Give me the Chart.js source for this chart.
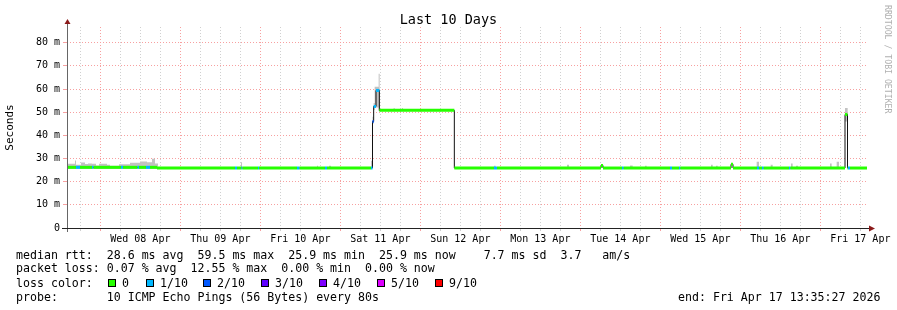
<!DOCTYPE html>
<html>
<head>
<meta charset="utf-8">
<script src="https://cdn.jsdelivr.net/npm/chart.js@4.4.1/dist/chart.umd.min.js"></script>
<style>
  body { margin: 0; background: #fff; }
  #wrap { position: relative; width: 897px; height: 310px; overflow: hidden; }
  #chart { position: absolute; left: 0; top: 0; }
  .txt { position: absolute; font-family: 'DejaVu Sans Mono', monospace; font-size: 11.6px; line-height: 14px; white-space: pre; color: #000; }
  .box { position: absolute; width: 8px; height: 8px; box-sizing: border-box; border: 1px solid #000; }
  #title { position: absolute; left: 0; width: 897px; top: 11px; text-align: center; font-family: 'DejaVu Sans Mono', monospace; font-size: 13.5px; line-height: 16px; color: #000; }
  #mark { position: absolute; left: 883px; top: 5px; writing-mode: vertical-rl; font-family: 'DejaVu Sans Mono', monospace; font-size: 8.2px; color: #b0b0b0; white-space: pre; }
</style>
</head>
<body>
<div id="wrap">
  <canvas id="chart" width="897" height="310"></canvas>
  <div id="title">Last 10 Days</div>
  <div id="mark">RRDTOOL / TOBI OETIKER</div>
  <div class="txt" style="left:16px; top:248px;">median rtt:  28.6 ms avg  59.5 ms max  25.9 ms min  25.9 ms now    7.7 ms sd  3.7   am/s</div>
  <div class="txt" style="left:16px; top:261px;">packet loss: 0.07 % avg  12.55 % max  0.00 % min  0.00 % now</div>
  <div class="txt" style="left:16px; top:276px;">loss color:</div>
  <div id="legend"></div>
  <div class="txt" style="left:16px; top:290px;">probe:       10 ICMP Echo Pings (56 Bytes) every 80s</div>
  <div class="txt" style="left:678px; top:290px;">end: Fri Apr 17 13:35:27 2026</div>
</div>
<script>
// x values are hours since Tue 07 Apr 00:00
const startHour = 14;
const endHour = 254;
const dayLabels = ['Wed 08 Apr', 'Thu 09 Apr', 'Fri 10 Apr', 'Sat 11 Apr', 'Sun 12 Apr',
                   'Mon 13 Apr', 'Tue 14 Apr', 'Wed 15 Apr', 'Thu 16 Apr', 'Fri 17 Apr'];

// loss legend
const lossNames = ['0', '1/10', '2/10', '3/10', '4/10', '5/10', '9/10'];
const lossColors = ['#26ff00', '#00b8ff', '#0059ff', '#5e00ff', '#7e00ff', '#dd00ff', '#ff0000'];

// median rtt (ms), each value holds from its hour to the next one
const medianHours = [14, 16.7, 17.9, 21.5, 21.95, 30.2, 30.8, 35.15, 35.6, 37.7, 38.9, 41,
  64.4, 65, 66.35, 66.65, 71.3, 71.6, 83, 83.75, 91.4, 92, 105.2, 105.65, 106, 106.7, 107.7,
  130.2, 142.1, 143, 174.2, 174.8, 180.5, 181, 194.9, 195.5, 197.6, 198, 213.2, 213.8,
  221, 221.6, 222.5, 223, 230.6, 231, 247.4, 248.15, 248.3, 248.9];
const medianValues = [26.2, 26.2, 26.2, 26.2, 26.2, 26.2, 26.2, 26.2, 26.2, 26.2, 26.2, 25.9,
  25.9, 25.9, 25.9, 25.9, 25.9, 25.9, 25.9, 25.9, 25.9, 25.9, 25.9, 46, 52.5, 59.4, 50.8,
  25.9, 25.9, 25.9, 27.0, 25.9, 25.9, 25.9, 25.9, 25.9, 25.9, 25.9, 27.5, 25.9,
  25.9, 25.9, 25.9, 25.9, 25.9, 25.9, 49, 25.9, 25.9, 25.9];
// lost pings out of 10 -> index into lossColors
const medianLoss = [0, 1, 0, 1, 0, 1, 0, 1, 0, 1, 0, 0,
  1, 0, 1, 0, 1, 0, 1, 0, 1, 0, 1, 2, 1, 1, 0,
  0, 1, 0, 0, 0, 1, 0, 1, 0, 1, 0, 0, 0,
  1, 0, 1, 0, 1, 0, 0, 0, 1, 0];

// smoke (spread of the pings)
const smokeHours = [14, 16.4, 16.7, 18.2, 19.4, 20.3, 21.5, 22.7, 23.6, 26, 26.9, 29.6, 32.9, 35.9, 38, 39.5, 40.4,
  41.3, 66.2, 66.5, 89, 89.3, 92.6, 93.2, 105.2, 105.65, 106, 106.3, 107.5, 107.8, 112, 112.3, 114.5, 114.8,
  130.2, 142.1, 142.6, 164, 164.6, 182.9, 183.7, 187.4, 187.9, 207.2, 207.7, 208.7, 209.2, 220.9, 221.6,
  225.1, 225.7, 231.2, 231.7, 232.7, 233.3, 242.9, 243.4, 244.9, 245.6, 247.4, 248.2];
const smokeLow = [25.5, 25.5, 25.5, 25.5, 25.5, 25.5, 25.5, 25.5, 25.5, 25.5, 25.5, 25.5, 25.5, 25.5, 25.5, 25.5, 25.5,
  25.9, 25.9, 25.9, 25.9, 25.9, 25.9, 25.9, 25.9, 45, 51, 52, 50.5, 50.8, 50.8, 50.8, 50.8, 50.8,
  25.9, 25.9, 25.9, 25.9, 25.9, 25.9, 25.9, 25.9, 25.9, 25.9, 25.9, 25.9, 25.9, 25.9, 25.9,
  25.9, 25.9, 25.9, 25.9, 25.9, 25.9, 25.9, 25.9, 25.9, 25.9, 46, 25.9];
const smokeHigh = [27.7, 29.2, 27.3, 28.3, 27.6, 27.9, 27.7, 27.0, 27.7, 27.3, 26.9, 27.5, 28.2, 28.7, 28.4, 29.9, 27.8,
  25.9, 28.4, 25.9, 26.9, 25.9, 26.9, 25.9, 29, 48, 54, 61, 66.6, 50.8, 51.8, 50.8, 51.8, 50.8,
  25.9, 26.9, 25.9, 27.3, 25.9, 27.0, 25.9, 26.9, 25.9, 27.3, 25.9, 26.9, 25.9, 28.6, 25.9,
  27.3, 25.9, 27.8, 25.9, 26.9, 25.9, 27.8, 25.9, 28.6, 25.9, 51.8, 25.9];

const majorGrid = '#f7a0a0';
const minorGrid = '#d0d0d0';
const axisFont = { family: 'DejaVu Sans Mono', size: 10 };

// legend boxes under the chart
const legendLeft = [108, 146, 203, 261, 319, 377, 435];
const legend = document.getElementById('legend');
lossNames.forEach((n, i) => {
  const b = document.createElement('div');
  b.className = 'box';
  b.style.left = legendLeft[i] + 'px';
  b.style.top = '279px';
  b.style.background = lossColors[i];
  legend.appendChild(b);
  const t = document.createElement('div');
  t.className = 'txt';
  t.style.left = (legendLeft[i] + 14) + 'px';
  t.style.top = '276px';
  t.textContent = n;
  legend.appendChild(t);
});

function stepPoints(hours, values) {
  const pts = hours.map((h, i) => ({ x: h, y: values[i] }));
  pts.push({ x: endHour, y: values[values.length - 1] });
  return pts;
}

// colored median: one flat piece per interval, the joins left transparent
const colorPts = [];
medianHours.forEach((h, i) => {
  const h2 = i + 1 < medianHours.length ? medianHours[i + 1] : endHour;
  colorPts.push({ x: h, y: medianValues[i] }, { x: h2, y: medianValues[i] });
});

const axesPlugin = {
  id: 'axes',
  afterDraw(chart) {
    const c = chart.ctx;
    const a = chart.chartArea;
    c.save();
    c.lineWidth = 1;
    c.strokeStyle = '#666';
    c.beginPath();
    c.moveTo(a.left + 0.5, a.bottom + 4);
    c.lineTo(a.left + 0.5, a.top - 4);
    c.stroke();
    c.strokeStyle = '#222';
    c.beginPath();
    c.moveTo(a.left - 5, a.bottom + 0.5);
    c.lineTo(a.right + 3, a.bottom + 0.5);
    c.stroke();
    c.fillStyle = '#8b1a1a';
    c.beginPath();
    c.moveTo(a.left - 2.5, a.top - 3);
    c.lineTo(a.left + 3.5, a.top - 3);
    c.lineTo(a.left + 0.5, a.top - 8);
    c.closePath();
    c.fill();
    c.beginPath();
    c.moveTo(a.right + 2, a.bottom - 2.5);
    c.lineTo(a.right + 2, a.bottom + 3.5);
    c.lineTo(a.right + 8, a.bottom + 0.5);
    c.closePath();
    c.fill();
    c.restore();
  }
};

const ctx = document.getElementById('chart').getContext('2d');
const chart = new Chart(ctx, {
  type: 'line',
  data: {
    datasets: [{
      label: 'median',
      data: colorPts,
      borderWidth: 3,
      pointRadius: 0,
      order: 1,
      segment: {
        borderColor: s => s.p0DataIndex % 2 === 0 ? lossColors[medianLoss[s.p0DataIndex / 2]] : 'rgba(0,0,0,0)'
      }
    }, {
      label: 'median line',
      data: stepPoints(medianHours, medianValues),
      stepped: true,
      borderColor: '#111',
      borderWidth: 1,
      pointRadius: 0,
      order: 2
    }, {
      label: 'smoke low',
      data: stepPoints(smokeHours, smokeLow),
      stepped: true,
      borderWidth: 0,
      borderColor: 'rgba(0,0,0,0)',
      pointRadius: 0,
      order: 3
    }, {
      label: 'smoke high',
      data: stepPoints(smokeHours, smokeHigh),
      stepped: true,
      borderWidth: 0,
      borderColor: 'rgba(0,0,0,0)',
      backgroundColor: '#c2c2c2',
      fill: 2,
      pointRadius: 0,
      order: 4
    }]
  },
  options: {
    responsive: false,
    animation: false,
    events: [],
    layout: { padding: { left: 0, right: 30, top: 27, bottom: 0 } },
    plugins: {
      legend: { display: false },
      tooltip: { enabled: false },
      title: { display: false }
    },
    scales: {
      x: {
        type: 'linear',
        min: startHour,
        max: endHour,
        afterFit: s => { s.height = 82; },
        afterBuildTicks: s => {
          const t = [];
          for (let h = 18; h < endHour; h += 6) t.push({ value: h });
          s.ticks = t;
        },
        ticks: {
          autoSkip: false,
          maxRotation: 0,
          padding: 2,
          color: '#000',
          font: axisFont,
          callback: v => {
            const i = (v - 36) / 24;
            return Number.isInteger(i) ? dayLabels[i] : '';
          }
        },
        grid: {
          color: c => c.tick && c.tick.value % 24 === 0 ? majorGrid : minorGrid,
          tickColor: c => c.tick && c.tick.value % 24 === 0 ? majorGrid : minorGrid,
          tickLength: 3
        },
        border: { display: false, dash: [1, 2] }
      },
      y: {
        min: 0,
        max: 86.8,
        afterFit: s => { s.width = 67; },
        afterBuildTicks: s => {
          const t = [];
          for (let v = 0; v <= 85; v += 5) t.push({ value: v });
          s.ticks = t;
        },
        ticks: {
          padding: 3,
          color: '#000',
          font: axisFont,
          callback: v => v % 10 === 0 ? (v === 0 ? '0' : v + ' m') : ''
        },
        title: {
          display: true,
          text: 'Seconds',
          color: '#000',
          font: { family: 'DejaVu Sans Mono', size: 11 },
          padding: { top: 4, bottom: 0 }
        },
        grid: {
          color: c => c.tick && c.tick.value % 10 === 0 ? majorGrid : minorGrid,
          tickColor: c => c.tick && c.tick.value % 10 === 0 ? majorGrid : minorGrid,
          tickLength: 4
        },
        border: { display: false, dash: [1, 2] }
      }
    }
  },
  plugins: [axesPlugin]
});
</script>
</body>
</html>
